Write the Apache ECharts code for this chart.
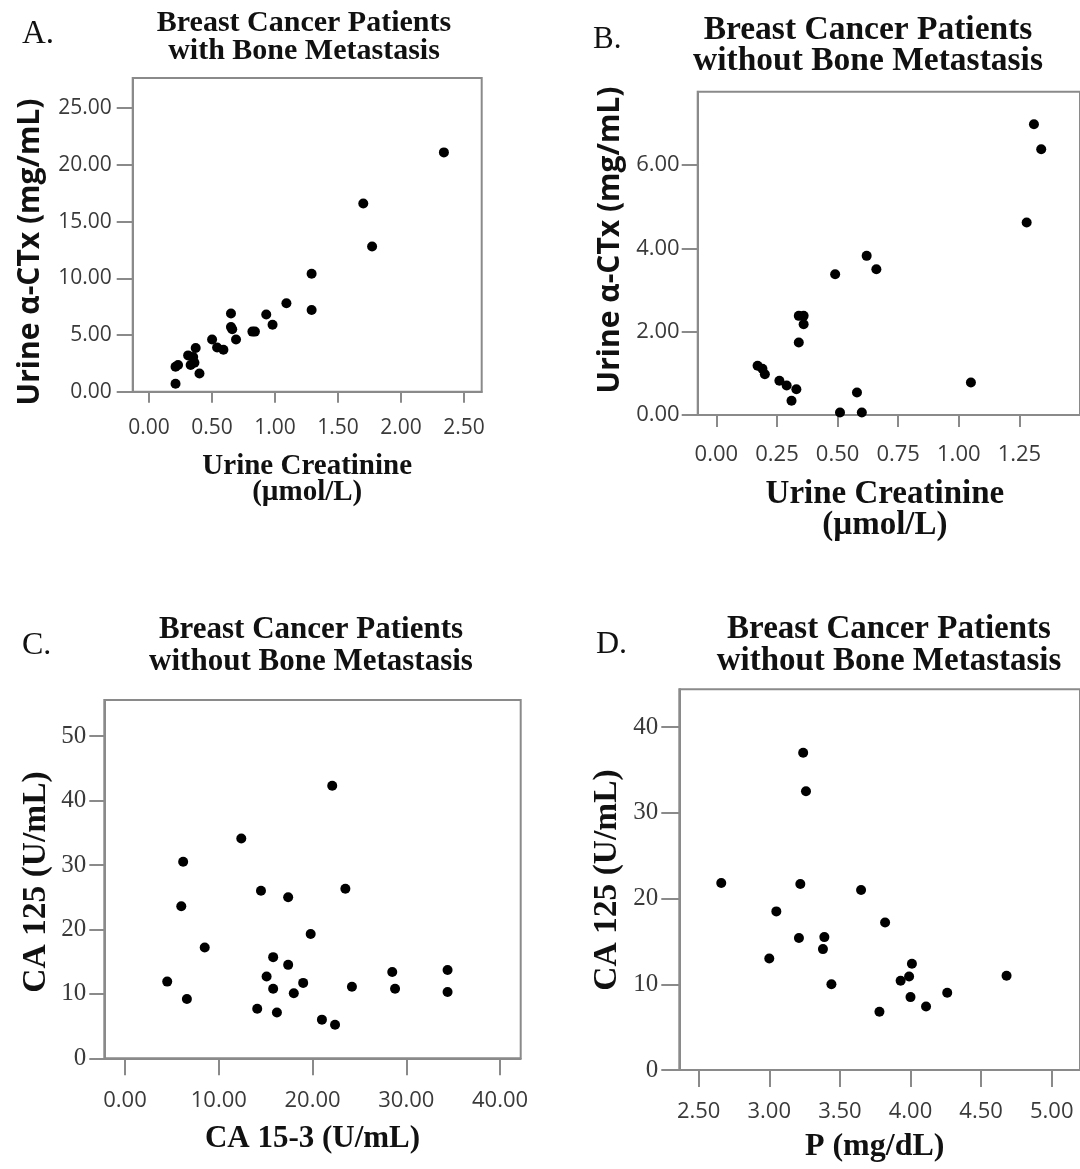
<!DOCTYPE html>
<html>
<head>
<meta charset="utf-8">
<title>Urine α-CTx and CA 125 scatter plots</title>
<script src="https://cdn.jsdelivr.net/npm/echarts@6/dist/echarts.min.js"></script>
<style>
  html, body { margin: 0; padding: 0; background: #fff; }
  #chart { width: 1080px; height: 1169px; }
</style>
</head>
<body>
<div id="chart"></div>
<script>
// A. with bone metastasis: urine creatinine vs urine a-CTx
const aCreatinine = [2.34, 1.70, 1.77, 1.29, 1.29, 1.09, 0.93, 0.98, 0.82, 0.84, 0.65, 0.65, 0.66, 0.69, 0.50, 0.54, 0.59, 0.37, 0.31, 0.35, 0.33, 0.36, 0.40, 0.21, 0.23, 0.21]
const aCtx = [21.1, 16.6, 12.8, 10.4, 7.2, 7.8, 6.8, 5.9, 5.3, 5.3, 6.9, 5.7, 5.5, 4.6, 4.6, 3.9, 3.7, 3.85, 3.2, 3.05, 2.35, 2.55, 1.6, 2.2, 2.35, 0.7]

// B. without bone metastasis: urine creatinine vs urine a-CTx
const bCreatinine = [1.31, 1.34, 1.28, 1.05, 0.62, 0.66, 0.49, 0.34, 0.36, 0.36, 0.34, 0.17, 0.19, 0.20, 0.26, 0.29, 0.33, 0.31, 0.51, 0.60, 0.58]
const bCtx = [6.98, 6.38, 4.62, 0.78, 3.82, 3.50, 3.38, 2.38, 2.38, 2.18, 1.74, 1.18, 1.11, 0.98, 0.82, 0.71, 0.62, 0.34, 0.06, 0.06, 0.54]

// C. without bone metastasis: CA 15-3 vs CA 125
const cCa153 = [22.1, 12.4, 6.2, 6.0, 14.5, 17.4, 23.5, 19.8, 8.5, 15.8, 17.4, 15.1, 4.5, 15.8, 19.0, 18.0, 24.2, 28.5, 28.8, 34.4, 34.4, 6.6, 14.1, 16.2, 21.0, 22.4]
const cCa125 = [42.3, 34.1, 30.5, 23.6, 26.0, 25.0, 26.3, 19.3, 17.2, 15.7, 14.5, 12.7, 11.9, 10.8, 11.7, 10.1, 11.1, 13.4, 10.8, 13.7, 10.3, 9.2, 7.7, 7.1, 6.0, 5.2]

// D. without bone metastasis: P vs CA 125
const dP = [3.24, 3.26, 2.66, 3.22, 3.65, 3.05, 3.82, 3.21, 3.39, 3.38, 3.00, 3.44, 4.01, 3.99, 3.93, 4.00, 4.11, 4.26, 3.78, 4.68]
const dCa125 = [37.0, 32.5, 21.8, 21.7, 21.0, 18.5, 17.2, 15.4, 15.5, 14.1, 13.0, 10.0, 12.4, 10.9, 10.4, 8.5, 7.4, 9.0, 6.8, 11.0]

// tick values
const aXTicks = [0, 0.5, 1, 1.5, 2, 2.5]
const aYTicks = [0, 5, 10, 15, 20, 25]
const bXTicks = [0, 0.25, 0.5, 0.75, 1, 1.25]
const bYTicks = [0, 2, 4, 6]
const cXTicks = [0, 10, 20, 30, 40]
const cYTicks = [0, 10, 20, 30, 40, 50]
const dXTicks = [2.5, 3, 3.5, 4, 4.5, 5]
const dYTicks = [0, 10, 20, 30, 40]

const SERIF = '"Liberation Serif", "Times New Roman", serif'
const SANS = '"Open Sans", "Noto Sans", sans-serif'
const AXIS = '#8a8a8a'
const LABEL = '#3a3a3a'

function pairs (xs, ys) {
  return xs.map((x, i) => [x, ys[i]])
}

function fixed2 (v) {
  return v.toFixed(2)
}

function axis (o) {
  return {
    type: 'value',
    gridIndex: o.grid,
    min: o.min,
    max: o.max,
    splitLine: { show: false },
    axisLine: { show: true, onZero: false, lineStyle: { color: AXIS, width: 2 } },
    axisTick: {
      show: true,
      length: o.tickLen,
      customValues: o.ticks,
      lineStyle: { color: AXIS, width: 2 }
    },
    axisLabel: {
      customValues: o.ticks,
      margin: o.margin,
      formatter: o.fmt,
      fontFamily: o.font,
      fontSize: o.fontSize,
      color: LABEL
    },
    name: o.name || '',
    nameLocation: 'middle',
    nameGap: o.nameGap || 0,
    nameTextStyle: o.nameStyle || {}
  }
}

function xName (size, lineHeight) {
  return { fontFamily: SERIF, fontWeight: 'bold', fontSize: size, lineHeight: lineHeight, color: '#111' }
}

function text (x, y, str, font, opts) {
  return Object.assign({
    type: 'text',
    x: x,
    y: y,
    style: Object.assign({
      text: str,
      font: font,
      fill: '#111',
      align: 'center',
      verticalAlign: 'middle'
    }, opts && opts.style)
  }, opts && opts.el)
}

const chart = echarts.init(document.getElementById('chart'), null, { renderer: 'canvas' })

const grid = { show: true, borderColor: AXIS, borderWidth: 2, backgroundColor: '#fff' }

chart.setOption({
  animation: false,
  backgroundColor: '#fff',
  grid: [
    Object.assign({ left: 132.7, top: 78, width: 349, height: 313.7 }, grid),
    Object.assign({ left: 697.7, top: 91.7, width: 391, height: 323.3 }, grid),
    Object.assign({ left: 104.3, top: 700, width: 416.4, height: 358.3 }, grid),
    Object.assign({ left: 679.3, top: 689.3, width: 413.7, height: 380.7 }, grid)
  ],
  xAxis: [
    axis({ grid: 0, min: -0.13, max: 2.64, ticks: aXTicks, tickLen: 11, margin: 26, fmt: fixed2, font: SANS, fontSize: 21,
      name: 'Urine Creatinine\n(µmol/L)', nameGap: 62, nameStyle: xName(29, 26) }),
    axis({ grid: 1, min: -0.077, max: 1.5, ticks: bXTicks, tickLen: 12, margin: 29, fmt: fixed2, font: SANS, fontSize: 22,
      name: 'Urine Creatinine\n(µmol/L)', nameGap: 64, nameStyle: Object.assign(xName(33, 31), { padding: [0, 8, 0, 0] }) }),
    axis({ grid: 2, min: -2.21, max: 42.2, ticks: cXTicks, tickLen: 17, margin: 31, fmt: fixed2, font: SANS, fontSize: 22,
      name: 'CA 15-3 (U/mL)', nameGap: 65, nameStyle: xName(31, 31) }),
    axis({ grid: 3, min: 2.363, max: 5.2, ticks: dXTicks, tickLen: 17, margin: 31, fmt: fixed2, font: SANS, fontSize: 22,
      name: 'P (mg/dL)', nameGap: 61, nameStyle: Object.assign(xName(32, 32), { padding: [0, 10, 0, 0] }) })
  ],
  yAxis: [
    axis({ grid: 0, min: 0, max: 27.66, ticks: aYTicks, tickLen: 16, margin: 21, fmt: fixed2, font: SANS, fontSize: 21 }),
    axis({ grid: 1, min: 0, max: 7.76, ticks: bYTicks, tickLen: 16, margin: 18, fmt: fixed2, font: SANS, fontSize: 22 }),
    axis({ grid: 2, min: 0, max: 55.6, ticks: cYTicks, tickLen: 15, margin: 18, font: SERIF, fontSize: 25 }),
    axis({ grid: 3, min: 0, max: 44.4, ticks: dYTicks, tickLen: 18, margin: 21, font: SERIF, fontSize: 25 })
  ],
  series: [
    { type: 'scatter', xAxisIndex: 0, yAxisIndex: 0, data: pairs(aCreatinine, aCtx) },
    { type: 'scatter', xAxisIndex: 1, yAxisIndex: 1, data: pairs(bCreatinine, bCtx) },
    { type: 'scatter', xAxisIndex: 2, yAxisIndex: 2, data: pairs(cCa153, cCa125) },
    { type: 'scatter', xAxisIndex: 3, yAxisIndex: 3, data: pairs(dP, dCa125) }
  ].map(s => Object.assign(s, { symbolSize: 10, itemStyle: { color: '#000', opacity: 1 } })),
  graphic: [
    // panel letters
    text(22, 34.5, 'A.', '33px ' + SERIF, { style: { align: 'left' } }),
    text(593, 40, 'B.', '31px ' + SERIF, { style: { align: 'left' } }),
    text(22, 645.5, 'C.', '32px ' + SERIF, { style: { align: 'left' } }),
    text(596, 644.5, 'D.', '32px ' + SERIF, { style: { align: 'left' } }),
    // titles
    text(304, 37, 'Breast Cancer Patients\nwith Bone Metastasis', 'bold 30px ' + SERIF, { style: { lineHeight: 28 } }),
    text(868, 45.5, 'Breast Cancer Patients\nwithout Bone Metastasis', 'bold 33.5px ' + SERIF, { style: { lineHeight: 31 } }),
    text(311, 645.5, 'Breast Cancer Patients\nwithout Bone Metastasis', 'bold 31px ' + SERIF, { style: { lineHeight: 32 } }),
    text(889, 645.5, 'Breast Cancer Patients\nwithout Bone Metastasis', 'bold 33px ' + SERIF, { style: { lineHeight: 32 } }),
    // y axis titles
    text(30, 252, 'Urine α-CTx (mg/mL)', 'bold 30px ' + SANS, { el: { rotation: Math.PI / 2 } }),
    text(610, 240, 'Urine α-CTx (mg/mL)', 'bold 30px ' + SANS, { el: { rotation: Math.PI / 2 } }),
    text(36, 882, 'CA 125 (U/mL)', 'bold 33.5px ' + SERIF, { el: { rotation: Math.PI / 2 } }),
    text(607, 880, 'CA 125 (U/mL)', 'bold 33.5px ' + SERIF, { el: { rotation: Math.PI / 2 } })
  ]
})
</script>
</body>
</html>
